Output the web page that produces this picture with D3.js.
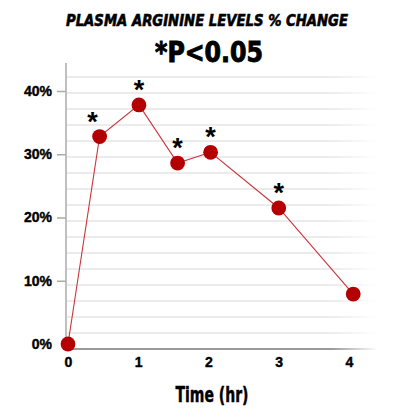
<!DOCTYPE html>
<html>
<head>
<meta charset="utf-8">
<script src="https://cdn.jsdelivr.net/npm/d3@7"></script>
<style>
  body { margin: 0; background: #fff; }
  text { font-family: "Liberation Sans Narrow", "DejaVu Sans Condensed", "Liberation Sans", Arial, sans-serif; font-weight: bold; fill: #000; }
  .heavy { stroke: #000; stroke-width: 0.6px; }
</style>
</head>
<body>
<svg id="chart" width="394" height="411"></svg>
<script>
// values
var hours = [0, 0.45, 1.01, 1.56, 2.03, 3.0, 4.06];
var change = [0, 32.8, 37.8, 28.6, 30.3, 21.5, 7.9];
var significant = [false, true, true, true, true, true, false];
var xTicks = [0, 1, 2, 3, 4];
var yTicks = [0, 10, 20, 30, 40];

var svg = d3.select('#chart');

var x = d3.scaleLinear().domain([0, 4]).range([68, 349]);
var y = d3.scaleLinear().domain([0, 40]).range([344, 91]);
// the background rules are just decoration, 18 evenly spaced lines
var rule = d3.scaleLinear().domain([0, 17]).range([349, 77]);

var defs = svg.append('defs');
var fade = defs.append('linearGradient')
  .attr('id', 'fade')
  .attr('gradientUnits', 'userSpaceOnUse')
  .attr('x1', 67).attr('x2', 378).attr('y1', 0).attr('y2', 0);
fade.append('stop').attr('offset', '0.85').attr('stop-color', '#d8d8d8');
fade.append('stop').attr('offset', '1').attr('stop-color', '#d8d8d8').attr('stop-opacity', 0);

var fadeDark = defs.append('linearGradient')
  .attr('id', 'fadeDark')
  .attr('gradientUnits', 'userSpaceOnUse')
  .attr('x1', 67).attr('x2', 378).attr('y1', 0).attr('y2', 0);
fadeDark.append('stop').attr('offset', '0.85').attr('stop-color', '#9a9a9a');
fadeDark.append('stop').attr('offset', '1').attr('stop-color', '#9a9a9a').attr('stop-opacity', 0);

svg.append('g')
  .selectAll('line')
  .data(d3.range(1, 18))
  .enter()
  .append('line')
  .attr('x1', 67)
  .attr('x2', 378)
  .attr('y1', function(d){ return rule(d); })
  .attr('y2', function(d){ return rule(d); })
  .attr('stroke', 'url(#fade)')
  .attr('stroke-width', 1.2);

// bottom axis line
svg.append('line')
  .attr('x1', 67).attr('x2', 378)
  .attr('y1', rule(0)).attr('y2', rule(0))
  .attr('stroke', 'url(#fadeDark)')
  .attr('stroke-width', 1.8);

// y axis
var yAxis = d3.axisLeft(y)
  .tickValues(yTicks)
  .tickSize(9)
  .tickPadding(5)
  .tickFormat(function(d){ return d + '%'; });

var gy = svg.append('g')
  .attr('transform', 'translate(66,0)')
  .call(yAxis);
gy.select('.domain').remove();
gy.selectAll('.tick line').attr('stroke', '#aaa').attr('stroke-width', 1.5);
gy.selectAll('.tick').filter(function(d){ return d === 0; }).select('line').remove();
gy.selectAll('.tick text')
  .attr('class', 'heavy')
  .style('font-size', '14px')
  .style('stroke-width', '0.4px')
  .style('font-family', '"Liberation Sans", Arial, sans-serif')
  .attr('x', -14);

svg.append('line')
  .attr('x1', 66).attr('x2', 66)
  .attr('y1', 63).attr('y2', 349)
  .attr('stroke', '#b0b0b0')
  .attr('stroke-width', 1.6);

// x axis labels only
var xAxis = d3.axisBottom(x)
  .tickValues(xTicks)
  .tickSize(0)
  .tickPadding(0)
  .tickFormat(d3.format('d'));

var gx = svg.append('g')
  .attr('transform', 'translate(0,357)')
  .call(xAxis);
gx.select('.domain').remove();
gx.selectAll('.tick text')
  .attr('class', 'heavy')
  .style('font-size', '14px')
  .style('stroke-width', '0.4px')
  .style('font-family', '"Liberation Sans", Arial, sans-serif');

// line + points
var pts = hours.map(function(h, i){ return [h, change[i]]; });
var line = d3.line()
  .x(function(d){ return x(d[0]); })
  .y(function(d){ return y(d[1]); });

svg.append('path')
  .datum(pts)
  .attr('d', line)
  .attr('fill', 'none')
  .attr('stroke', '#c9343a')
  .attr('stroke-width', 1.1);

svg.append('g')
  .selectAll('circle')
  .data(pts)
  .enter()
  .append('circle')
  .attr('cx', function(d){ return x(d[0]); })
  .attr('cy', function(d){ return y(d[1]); })
  .attr('r', 7.4)
  .attr('fill', '#b30003');

// significance stars
svg.append('g')
  .selectAll('text')
  .data(pts.filter(function(d, i){ return significant[i]; }))
  .enter()
  .append('text')
  .attr('x', function(d, i){ return x(d[0]) - (i === 0 ? 7 : 0); })
  .attr('y', function(d){ return y(d[1]) - 6; })
  .attr('text-anchor', 'middle')
  .style('font-family', '"Liberation Sans", Arial, sans-serif')
  .style('font-size', '27px')
  .text('*');

// titles
svg.append('text')
  .attr('class', 'heavy')
  .attr('x', 207)
  .attr('y', 26)
  .attr('text-anchor', 'middle')
  .attr('textLength', 282)
  .attr('lengthAdjust', 'spacingAndGlyphs')
  .style('font-size', '16px')
  .style('font-style', 'italic')
  .text('PLASMA ARGININE LEVELS % CHANGE');

svg.append('text')
  .attr('class', 'heavy')
  .attr('x', 209)
  .attr('y', 62)
  .attr('text-anchor', 'middle')
  .attr('textLength', 108)
  .attr('lengthAdjust', 'spacingAndGlyphs')
  .style('font-size', '28px')
  .style('stroke-width', '0.9px')
  .text('*P<0.05');

svg.append('text')
  .attr('class', 'heavy')
  .attr('x', 212)
  .attr('y', 402)
  .attr('text-anchor', 'middle')
  .attr('textLength', 73)
  .attr('lengthAdjust', 'spacingAndGlyphs')
  .style('font-size', '21px')
  .style('stroke-width', '0.45px')
  .text('Time (hr)');
</script>
</body>
</html>
